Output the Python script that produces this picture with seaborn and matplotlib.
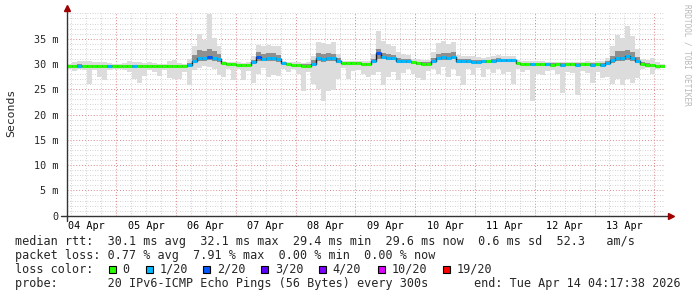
import numpy as np
import pandas as pd
import matplotlib
matplotlib.use("Agg")
import matplotlib.pyplot as plt
import matplotlib.dates as mdates
from matplotlib.patches import Rectangle
from matplotlib.ticker import FixedLocator, MultipleLocator, FuncFormatter, NullFormatter
import seaborn as sns

# ---------------- data (2-hour bins, Apr 4 04:17:38 -> Apr 14 04:17:38) ----------------
START = "2026-04-04 04:17:38"
END = "2026-04-14 04:17:38"

median_ms = [
    29.6, 29.6, 29.65, 29.6, 29.6, 29.6, 29.6, 29.6, 29.6, 29.6,                 # Apr 4
    29.6, 29.6, 29.6, 29.6, 29.6, 29.6, 29.6, 29.6, 29.6, 29.6, 29.6, 29.6,       # Apr 5
    29.6, 29.6, 29.8, 30.6, 31.2, 31.1, 31.4, 31.1, 30.9, 30.2, 30.0, 29.9,       # Apr 6
    29.8, 29.7, 29.8, 30.3, 31.3, 31.0, 31.1, 31.2, 30.9, 30.2, 30.0, 29.8,       # Apr 7
    29.7, 29.65, 29.65, 30.0, 31.2, 31.0, 31.1, 31.1, 30.6, 30.1, 30.1, 30.1,     # Apr 8
    30.1, 30.0, 30.0, 30.6, 32.1, 31.3, 31.2, 31.2, 30.6, 30.5, 30.5, 30.3,       # Apr 9
    30.1, 30.0, 30.05, 30.6, 31.2, 31.3, 31.2, 31.4, 30.5, 30.5, 30.5, 30.45,     # Apr 10
    30.45, 30.5, 30.5, 30.65, 30.75, 30.7, 30.7, 30.7, 30.1, 30.0, 30.0, 29.9,    # Apr 11
    29.9, 29.95, 29.9, 29.85, 29.9, 29.85, 29.9, 29.9, 29.85, 29.9, 29.9, 29.85,  # Apr 12
    29.9, 29.85, 30.1, 30.7, 31.2, 31.2, 31.5, 31.2, 30.5, 29.9, 29.8, 29.75,     # Apr 13
    29.6, 29.6,                                                                   # Apr 14
]

loss_20 = [
    0, 0, 1, 0, 0, 0, 0, 0, 1, 0,
    0, 0, 0, 1, 0, 0, 0, 0, 0, 0, 0, 0,
    0, 0, 1, 1, 1, 1, 2, 1, 1, 0, 0, 0,
    0, 0, 0, 1, 2, 1, 1, 1, 1, 1, 0, 0,
    0, 0, 0, 1, 1, 1, 1, 1, 1, 0, 0, 0,
    0, 0, 0, 1, 2, 1, 1, 1, 1, 1, 1, 0,
    0, 0, 0, 1, 1, 1, 1, 1, 1, 1, 1, 1,
    1, 1, 0, 1, 1, 1, 1, 1, 0, 0, 0, 1,
    0, 0, 1, 0, 0, 1, 0, 0, 1, 0, 0, 1,
    0, 1, 1, 1, 1, 1, 1, 1, 1, 0, 0, 0,
    0, 0,
]

smoke_min = [
    29.0, 28.6, 29.0, 28.8, 26.0, 28.9, 27.4, 26.9, 28.8, 29.0,
    29.0, 28.8, 28.5, 27.0, 26.3, 27.6, 28.9, 28.4, 27.6, 28.9, 27.3, 27.0,
    27.0, 28.5, 25.9, 28.8, 29.2, 29.6, 29.4, 29.0, 27.9, 27.5, 29.1, 26.9,
    29.0, 26.9, 28.6, 26.3, 28.0, 29.2, 27.5, 27.8, 27.6, 29.0, 28.5, 29.0,
    28.0, 24.6, 28.5, 26.0, 25.0, 22.6, 24.6, 24.8, 27.0, 29.2, 27.0, 28.7,
    28.8, 28.0, 27.5, 27.9, 28.5, 25.9, 27.5, 28.5, 26.8, 28.3, 29.0, 28.0,
    27.2, 26.8, 28.6, 29.0, 28.0, 29.4, 27.5, 29.0, 27.6, 25.9, 29.0, 27.8,
    29.2, 27.5, 29.0, 28.2, 29.1, 28.0, 28.5, 26.0, 29.0, 28.5, 28.9, 22.6,
    28.0, 27.8, 28.7, 28.8, 28.0, 24.3, 28.5, 28.2, 23.9, 28.6, 28.2, 26.3,
    28.5, 27.2, 27.5, 26.0, 27.0, 25.9, 27.0, 26.2, 27.2, 29.0, 29.2, 28.1,
    29.1, 29.2,
]

smoke_q1 = [
    29.45, 29.45, 29.45, 29.45, 29.45, 29.45, 29.45, 29.45, 29.45, 29.45,
    29.45, 29.45, 29.45, 29.45, 29.45, 29.45, 29.45, 29.45, 29.45, 29.45, 29.45, 29.45,
    29.45, 29.45, 29.6, 30.2, 30.5, 30.5, 30.8, 30.6, 30.4, 30.0, 29.85, 29.75,
    29.6, 29.5, 29.6, 29.9, 30.6, 30.5, 30.6, 30.6, 30.4, 30.0, 29.85, 29.6,
    29.5, 29.45, 29.45, 29.8, 30.5, 30.4, 30.5, 30.5, 30.2, 29.9, 29.9, 29.9,
    29.9, 29.8, 29.8, 30.2, 31.0, 30.9, 30.8, 30.8, 30.3, 30.2, 30.2, 30.0,
    29.8, 29.8, 29.8, 30.2, 30.7, 30.8, 30.7, 30.9, 30.2, 30.2, 30.2, 30.1,
    30.1, 30.2, 30.2, 30.3, 30.4, 30.4, 30.4, 30.4, 29.9, 29.8, 29.8, 29.7,
    29.65, 29.7, 29.65, 29.6, 29.65, 29.6, 29.65, 29.65, 29.6, 29.65, 29.65, 29.6,
    29.65, 29.6, 29.8, 30.2, 30.6, 30.6, 30.8, 30.6, 30.1, 29.7, 29.6, 29.55,
    29.4, 29.4,
]

smoke_q3 = [
    29.8, 29.8, 29.9, 29.85, 29.8, 29.8, 29.8, 29.8, 29.75, 29.75,
    29.75, 29.75, 29.75, 29.75, 29.75, 29.75, 29.75, 29.75, 29.75, 29.75, 29.75, 29.75,
    29.75, 29.75, 30.2, 31.8, 32.8, 32.5, 33.0, 32.6, 32.0, 30.4, 30.15, 30.05,
    30.0, 29.9, 30.0, 30.8, 32.3, 32.0, 32.2, 32.1, 31.8, 30.4, 30.15, 29.95,
    30.0, 29.9, 29.9, 30.8, 32.2, 32.0, 32.1, 32.0, 31.2, 30.4, 30.3, 30.3,
    30.3, 30.2, 30.2, 31.0, 33.0, 32.2, 32.0, 31.8, 31.2, 30.9, 30.9, 30.6,
    30.4, 30.3, 30.3, 31.2, 32.0, 32.2, 32.1, 32.3, 31.0, 30.9, 30.9, 30.8,
    30.8, 30.8, 30.8, 31.0, 31.1, 31.0, 31.0, 31.0, 30.35, 30.25, 30.25, 30.15,
    30.15, 30.2, 30.15, 30.1, 30.15, 30.1, 30.15, 30.15, 30.1, 30.15, 30.15, 30.1,
    30.15, 30.1, 30.5, 31.6, 32.6, 32.5, 32.8, 32.4, 31.4, 30.3, 30.1, 30.0,
    29.85, 29.8,
]

smoke_max = [
    30.0, 30.3, 30.6, 30.6, 30.5, 30.4, 30.3, 30.3, 30.2, 30.0,
    30.0, 30.1, 30.5, 30.4, 30.3, 30.2, 30.3, 30.2, 30.0, 30.0, 30.6, 30.8,
    30.2, 30.0, 31.0, 33.5, 36.0, 34.8, 39.8, 35.2, 33.5, 30.5, 30.3, 30.3,
    30.3, 30.2, 30.4, 31.5, 33.8, 33.5, 33.8, 33.5, 33.6, 30.6, 30.4, 30.3,
    30.3, 30.2, 30.3, 31.5, 34.4, 34.2, 34.0, 34.4, 32.0, 30.6, 30.5, 30.6,
    30.6, 30.5, 30.5, 32.0, 36.5, 34.5, 34.0, 33.5, 32.3, 31.9, 31.7, 31.0,
    30.9, 30.8, 30.7, 32.3, 34.2, 34.5, 34.0, 34.3, 31.7, 31.5, 31.6, 31.5,
    31.3, 31.2, 31.4, 31.5, 31.8, 31.6, 31.5, 31.6, 30.7, 30.6, 30.5, 30.6,
    30.6, 30.5, 30.4, 30.3, 30.4, 30.3, 30.4, 30.3, 30.3, 30.4, 30.5, 30.4,
    30.5, 30.6, 31.2, 33.5, 35.8, 35.2, 37.5, 35.5, 33.0, 30.9, 30.8, 31.2,
    30.3, 30.0,
]

loss_levels = [0, 1, 2, 3, 4, 10, 19]
loss_labels = ["0", "1/20", "2/20", "3/20", "4/20", "10/20", "19/20"]
loss_colors = ["#26ff00", "#00b8ff", "#0059ff", "#5e00ff", "#7e00ff", "#dd00ff", "#ff0000"]

ytick_values = [0, 5, 10, 15, 20, 25, 30, 35]
ytick_labels = ["0", "5 m", "10 m", "15 m", "20 m", "25 m", "30 m", "35 m"]

rtt_line = "median rtt:  30.1 ms avg  32.1 ms max  29.4 ms min  29.6 ms now  0.6 ms sd  52.3   am/s"
loss_line = "packet loss: 0.77 % avg  7.91 % max  0.00 % min  0.00 % now"
probe_line = "probe:       20 IPv6-ICMP Echo Pings (56 Bytes) every 300s"
end_text = "end: Tue Apr 14 04:17:38 2026"

# ---------------- figure ----------------
sns.set_style("white")
plt.rcParams["font.family"] = ["DejaVu Sans Mono", "DejaVu Sans"]

W, H = 697, 297
fig = plt.figure(figsize=(W / 100, H / 100), dpi=100)
fig.patch.set_facecolor("white")
AX_L, AX_R, AX_T, AX_B = 67, 665, 13.4, 215.7
ax = fig.add_axes([AX_L / W, (H - AX_B) / H, (AX_R - AX_L) / W, (AX_B - AX_T) / H])
ax.set_facecolor("white")

edges = pd.date_range(START, periods=len(median_ms) + 1, freq="2h")
med = np.array(median_ms)
ext = lambda a: np.r_[np.asarray(a, float), a[-1]]

ax.fill_between(edges, ext(smoke_min), ext(smoke_max), step="post", color="#dcdcdc", lw=0, zorder=2)
ax.fill_between(edges, ext(smoke_q1), ext(smoke_q3), step="post", color="#8f8f8f", lw=0, zorder=3)

sns.lineplot(x=edges, y=ext(median_ms), drawstyle="steps-post", color="#1a1a1a", lw=1.0,
             estimator=None, ax=ax, zorder=4)

def loss_color(v):
    idx = max(k for k, lv in enumerate(loss_levels) if lv <= v)
    return loss_colors[idx]

ax.hlines(med, edges[:-1], edges[1:], colors=[loss_color(v) for v in loss_20], lw=2.2, zorder=5)

ax.set_xlim(pd.Timestamp(START), pd.Timestamp(END))
ax.set_ylim(0, 40)
ax.set_xlabel("")
ax.set_ylabel("")

# grid / ticks
ax.xaxis.set_major_locator(mdates.HourLocator(byhour=[0]))
ax.xaxis.set_minor_locator(mdates.HourLocator(byhour=[6, 12, 18]))
ax.xaxis.set_major_formatter(NullFormatter())
ax.xaxis.set_minor_formatter(FuncFormatter(
    lambda x, p: mdates.num2date(x).strftime("%d %b") if mdates.num2date(x).hour == 12 else ""))
ax.yaxis.set_major_locator(FixedLocator(ytick_values))
ax.yaxis.set_major_formatter(FuncFormatter(lambda v, p: ytick_labels[ytick_values.index(int(round(v)))]
                                           if int(round(v)) in ytick_values else ""))
ax.yaxis.set_minor_locator(MultipleLocator(1))

ax.set_axisbelow(True)
ax.grid(which="minor", color="#c4c4c4", linestyle=(0, (1, 2)), lw=0.6, zorder=0)
ax.grid(which="major", color="#d98a8a", linestyle=(0, (1, 2)), lw=0.7, zorder=0)

ax.tick_params(axis="x", which="minor", length=0, pad=3.5, labelsize=7.3, labelcolor="#000000")
ax.tick_params(axis="x", which="major", length=3, color="#444444")
ax.tick_params(axis="y", which="major", length=2, pad=4, labelsize=7.3, color="#444444")
ax.tick_params(axis="y", which="minor", length=0)

for s in ax.spines.values():
    s.set_visible(False)

# axis lines with arrows
ax.plot([-0.01, 1.01], [0, 0], transform=ax.transAxes, color="#333333", lw=1.0, clip_on=False, zorder=6)
ax.plot([0, 0], [-0.025, 1.025], transform=ax.transAxes, color="#333333", lw=1.0, clip_on=False, zorder=6)
ax.plot([1.01], [0], marker=">", ms=4, color="#a00000", transform=ax.transAxes, clip_on=False, zorder=7)
ax.plot([0], [1.025], marker="^", ms=4, color="#a00000", transform=ax.transAxes, clip_on=False, zorder=7)

def fx(px):
    return px / W

def fy(py):
    return 1 - py / H

LFS = 8.5
fig.text(fx(11), fy(113), "Seconds", rotation=90, ha="center", va="center", fontsize=8.25)
fig.text(fx(687), fy(4), "RRDTOOL / TOBI OETIKER", rotation=270, ha="center", va="top",
         fontsize=5.6, color="#b8b8b8")

# legend lines
y1, y2, y3, y4 = 241.3, 255.3, 269.3, 283.7
fig.text(fx(15), fy(y1), rtt_line, va="center", fontsize=LFS)
fig.text(fx(15), fy(y2), loss_line, va="center", fontsize=LFS)

fig.text(fx(15), fy(y3), "loss color:", va="center", fontsize=LFS)
for x, lab, col in zip([108.7, 146, 203.3, 261.3, 319.3, 377.7, 443], loss_labels, loss_colors):
    fig.patches.append(Rectangle((fx(x), fy(y3 + 3.6)), 7 / W, 7.2 / H, transform=fig.transFigure,
                                 facecolor=col, edgecolor="black", lw=0.8))
    fig.text(fx(x + 13.5), fy(y3), lab, va="center", fontsize=LFS)

fig.text(fx(15), fy(y4), probe_line, va="center", fontsize=LFS)
fig.text(fx(681), fy(y4), end_text, va="center", ha="right", fontsize=LFS)

fig.savefig("out.png", dpi=100, facecolor="white")
